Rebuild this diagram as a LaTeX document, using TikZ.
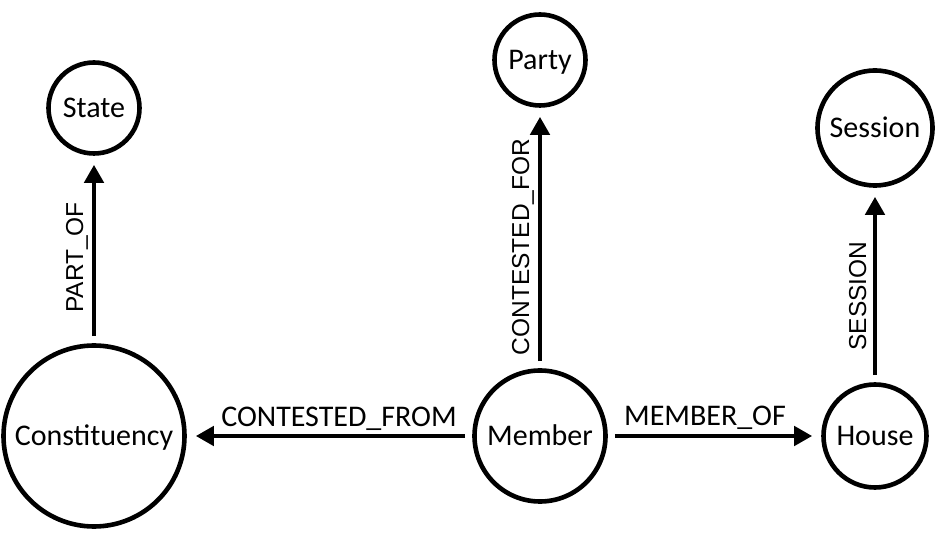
\documentclass[tikz,border=0pt]{standalone}
\usepackage{fontspec}
\setmainfont{Carlito}
\newfontfamily\arialfont{Liberation Sans}
\usetikzlibrary{arrows.meta}
\begin{document}
\begin{tikzpicture}[x=1pt,y=-1pt,
  entity/.style={circle,draw,line width=4.6pt,inner sep=0pt,
    font=\fontsize{30}{35}\selectfont,text height=19pt,text depth=0pt},
  rel/.style={line width=4.6pt,-{Triangle[length=18pt,width=19pt]},
    shorten <=7pt,shorten >=9pt},
  hlab/.style={font=\fontsize{30}{35}\selectfont,anchor=base,inner sep=0pt},
  vlab/.style={font=\arialfont\fontsize{24.5}{28}\selectfont,anchor=base,
    rotate=90,inner sep=0pt}]
\useasboundingbox (0,0) rectangle (935,534);
\node[entity,minimum size=91pt]  (state)   at (94,108)  {State};
\node[entity,minimum size=91pt]  (party)   at (540,60)  {Party};
\node[entity,minimum size=115pt] (session) at (875,128) {Session};
\node[entity,minimum size=181pt] (const)   at (94,436)  {Constituency};
\node[entity,minimum size=131pt] (member)  at (540,436) {Member};
\node[entity,minimum size=103pt] (house)   at (875,436) {House};
\draw[rel] (const) -- (state);
\draw[rel] (member) -- (party);
\draw[rel] (house) -- (session);
\draw[rel] (member) -- (const);
\draw[rel] (member) -- (house);
\node[hlab] (lfrom) at (339,427) {CONTESTED\_FROM};
\node[hlab] (lmem)  at (705,426) {MEMBER\_OF};
\node[vlab] (lpart) at (83,257.5) {PART\_OF};
\node[vlab] (lfor)  at (529,247) {CONTESTED\_FOR};
\node[vlab] (lsess) at (866,296) {SESSION};
\end{tikzpicture}
\end{document}
